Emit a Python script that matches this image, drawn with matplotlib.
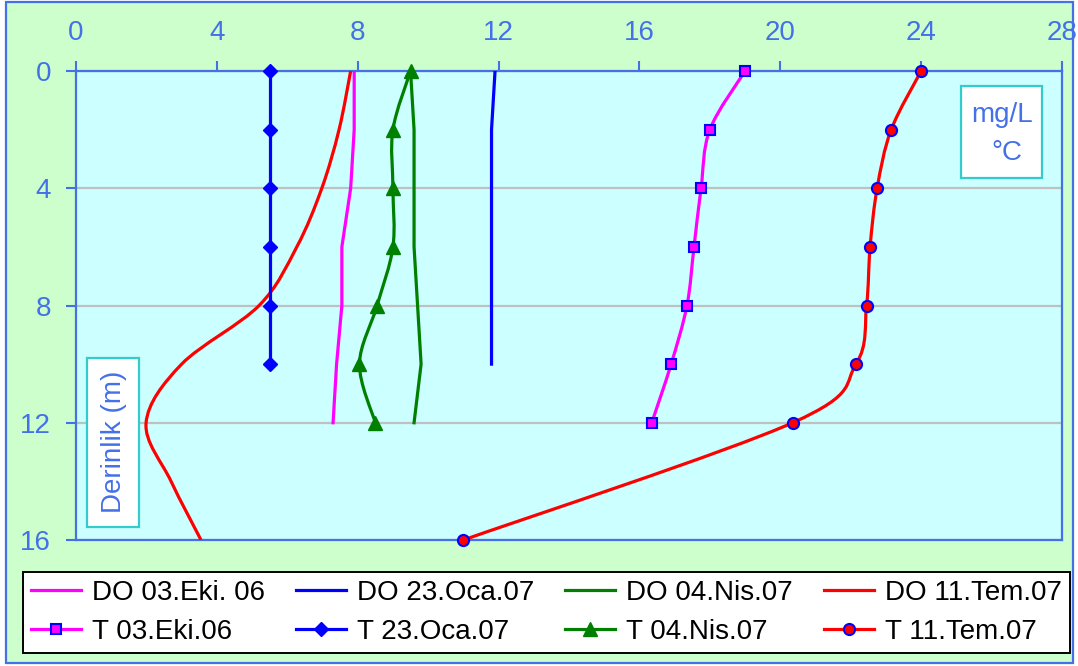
import numpy as np
import matplotlib
matplotlib.use("Agg")
import matplotlib.pyplot as plt
from matplotlib.path import Path
from matplotlib.patches import PathPatch, Rectangle
from matplotlib.lines import Line2D

plt.rcParams['font.family'] = ['Liberation Sans', 'DejaVu Sans']

# depth profiles (m) - dissolved oxygen (mg/L) and temperature (C)
depth_eki = [0, 2, 4, 6, 8, 10, 12]
depth_oca = [0, 2, 4, 6, 8, 10]
depth_nis = [0, 2, 4, 6, 8, 10, 12]
depth_tem_do = [0, 2, 4, 6, 8, 10, 12, 14, 16]
depth_tem_t = [0, 2, 4, 6, 8, 10, 12, 16]

do_eki = [7.9, 7.9, 7.8, 7.55, 7.55, 7.4, 7.3]
do_oca = [11.9, 11.8, 11.8, 11.8, 11.8, 11.8]
do_nis = [9.5, 9.6, 9.6, 9.6, 9.7, 9.8, 9.6]
do_tem = [7.8, 7.47, 6.98, 6.27, 5.2, 3.0, 1.99, 2.7, 3.55]

t_eki = [19.0, 18.0, 17.75, 17.55, 17.35, 16.9, 16.35]
t_oca = [5.5, 5.5, 5.5, 5.5, 5.5, 5.5]
t_nis = [9.5, 9.0, 9.0, 9.0, 8.55, 8.05, 8.5]
t_tem = [24.0, 23.15, 22.75, 22.55, 22.45, 22.15, 20.35, 11.0]

labels_do = ['DO 03.Eki. 06', 'DO 23.Oca.07', 'DO 04.Nis.07', 'DO 11.Tem.07']
labels_t = ['T 03.Eki.06', 'T 23.Oca.07', 'T 04.Nis.07', 'T 11.Tem.07']

BLUE_TXT = '#4470E8'
MAG = '#FF00FF'
BLU = '#0000FF'
GRN = '#008000'
RED = '#FF0000'
LW = 2.3


def smooth_path(x, y):
    # excel style smoothed line: cubic bezier through every point
    p = np.column_stack([x, y]).astype(float)
    n = len(p)
    verts = [p[0]]
    codes = [Path.MOVETO]
    for i in range(n - 1):
        p0 = p[max(i - 1, 0)]
        p1 = p[i]
        p2 = p[i + 1]
        p3 = p[min(i + 2, n - 1)]
        c1 = p1 + (p2 - p0) / 6.0
        c2 = p2 - (p3 - p1) / 6.0
        verts += [c1, c2, p2]
        codes += [Path.CURVE4] * 3
    return Path(verts, codes)


def add_smooth(ax, x, y, color, zorder=3):
    ax.add_patch(PathPatch(smooth_path(x, y), fill=False, edgecolor=color,
                           lw=LW, capstyle='butt', joinstyle='round', zorder=zorder))


W, H = 1078, 666
fig = plt.figure(figsize=(W / 100, H / 100), dpi=100)
fig.patch.set_facecolor('white')
fig.patches.append(Rectangle((6 / W, 1 - 663 / H), 1067 / W, 661 / H, transform=fig.transFigure,
                             facecolor='#CCFFCC', edgecolor=BLUE_TXT, lw=1.6, zorder=-2))

ax = fig.add_axes([76 / W, 1 - 540 / H, 986 / W, 469 / H])
ax.set_facecolor('#CCFFFF')
ax.set_xlim(0, 28)
ax.set_ylim(16, 0)
ax.set_xticks(range(0, 29, 4))
ax.set_yticks(range(0, 17, 4))
ax.xaxis.tick_top()
ax.tick_params(axis='both', colors=BLUE_TXT, labelsize=20, length=7, width=1.5, direction='out')
ax.tick_params(axis='x', pad=11)
ax.tick_params(axis='y', pad=11)
for s in ax.spines.values():
    s.set_color(BLUE_TXT)
    s.set_linewidth(1.6)
ax.set_axisbelow(True)
ax.yaxis.grid(True, color='#C0C0C0', lw=1.6)

# DO lines (straight), last one smoothed
ax.plot(do_eki, depth_eki, color=MAG, lw=LW, zorder=3)
ax.plot(do_oca, depth_oca, color=BLU, lw=LW, zorder=3)
ax.plot(do_nis, depth_nis, color=GRN, lw=LW, zorder=3)
add_smooth(ax, do_tem, depth_tem_do, RED)

# temperature lines (smoothed) + markers
add_smooth(ax, t_eki, depth_eki, MAG)
ax.plot(t_eki, depth_eki, ls='none', marker='s', ms=7, mfc=MAG, mec=BLU, mew=1.5, zorder=4, clip_on=False)
ax.plot(t_oca, depth_oca, color=BLU, lw=LW, marker='D', ms=7.5, zorder=4, clip_on=False)
add_smooth(ax, t_nis, depth_nis, GRN)
ax.plot(t_nis, depth_nis, ls='none', marker='^', ms=10, color=GRN, zorder=4, clip_on=False)
add_smooth(ax, t_tem, depth_tem_t, RED)
ax.plot(t_tem, depth_tem_t, ls='none', marker='o', ms=8, mfc=RED, mec=BLU, mew=1.5, zorder=4, clip_on=False)

# unit box and depth label
fig.patches.append(Rectangle((961 / W, 1 - 178 / H), 81 / W, 92 / H, transform=fig.transFigure,
                             facecolor='white', edgecolor='#33CCCC', lw=1.6, zorder=5))
fig.text(1002 / W, 1 - 115 / H, 'mg/L', ha='center', va='center', fontsize=20, color=BLUE_TXT, zorder=6)
fig.text(1007 / W, 1 - 153 / H, '°C', ha='center', va='center', fontsize=20, color=BLUE_TXT, zorder=6)
fig.patches.append(Rectangle((87 / W, 1 - 527 / H), 52 / W, 169 / H, transform=fig.transFigure,
                             facecolor='white', edgecolor='#33CCCC', lw=1.6, zorder=5))
fig.text(114 / W, 1 - 442 / H, 'Derinlik (m)', ha='center', va='center', rotation=90,
         fontsize=20, color=BLUE_TXT, zorder=6)

# legend: DO in first row, T in second
h_do = [Line2D([], [], color=c, lw=LW) for c in [MAG, BLU, GRN, RED]]
h_t = [Line2D([], [], color=MAG, lw=LW, marker='s', ms=7, mfc=MAG, mec=BLU, mew=1.5),
       Line2D([], [], color=BLU, lw=LW, marker='D', ms=7.5),
       Line2D([], [], color=GRN, lw=LW, marker='^', ms=10),
       Line2D([], [], color=RED, lw=LW, marker='o', ms=8, mfc=RED, mec=BLU, mew=1.5)]
handles = []
labels = []
for i in range(4):
    handles += [h_do[i], h_t[i]]
    labels += [labels_do[i], labels_t[i]]
leg = fig.legend(handles, labels, ncol=4, loc='lower left', mode='expand',
                 bbox_to_anchor=(23 / W, 1 - 653 / H, 1047 / W, 94 / H), bbox_transform=fig.transFigure,
                 fontsize=20, frameon=True, fancybox=False, shadow=False, framealpha=1,
                 facecolor='white', handlelength=1.8,
                 handletextpad=0.4, labelspacing=0.45, borderpad=0.3, borderaxespad=0)
leg.get_frame().set_edgecolor('black')
leg.get_frame().set_linewidth(1.4)
leg.set_zorder(6)

fig.savefig('out.png', dpi=100, facecolor=fig.get_facecolor())
